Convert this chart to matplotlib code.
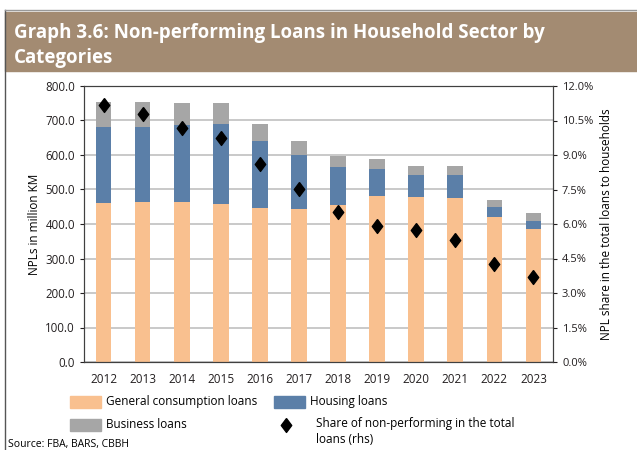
import numpy as np
import matplotlib.pyplot as plt
from matplotlib.patches import Rectangle
from matplotlib.lines import Line2D

plt.rcParams['font.family'] = ['Open Sans', 'DejaVu Sans']

years = ['2012', '2013', '2014', '2015', '2016', '2017',
         '2018', '2019', '2020', '2021', '2022', '2023']
consumption = [460, 463, 465, 459, 446, 444, 454, 481, 477, 476, 419, 386]
housing = [221, 218, 221, 230, 195, 157, 112, 77, 65, 66, 30, 24]
business = [72, 72, 64, 61, 48, 41, 31, 29, 25, 25, 20, 21]
share = [11.17, 10.77, 10.18, 9.72, 8.60, 7.53, 6.53, 5.92, 5.76, 5.29, 4.28, 3.69]

c_cons = '#f9c08f'
c_hous = '#5b7fa8'
c_bus = '#a6a6a6'
diamond = [(0, 1), (0.75, 0), (0, -1), (-0.75, 0), (0, 1)]

fig = plt.figure(figsize=(6.37, 4.5), dpi=100)

# title banner
fig.patches.append(Rectangle((5 / 637, 1 - 71 / 450), 1, 59 / 450,
                             transform=fig.transFigure, color='#a38b72', zorder=0))
fig.text(14 / 637, 1 - 33 / 450, 'Graph 3.6: Non-performing Loans in Household Sector by',
         color='white', fontsize=13.5, fontweight='bold', va='center')
fig.text(14 / 637, 1 - 58 / 450, 'Categories',
         color='white', fontsize=13.5, fontweight='bold', va='center')
fig.lines.append(Line2D([5 / 637, 5 / 637], [0, 1 - 10 / 450], transform=fig.transFigure,
                        color='#555555', lw=1))
fig.lines.append(Line2D([5 / 637, 1], [1 - 10 / 450, 1 - 10 / 450], transform=fig.transFigure,
                        color='#999999', lw=1))

ax = fig.add_axes([84 / 637, 1 - 362 / 450, 469 / 637, 276 / 450])
x = np.arange(len(years))
w = 0.4
cons = np.array(consumption)
hous = np.array(housing)
bus = np.array(business)
ax.bar(x, cons, w, color=c_cons, zorder=2)
ax.bar(x, hous, w, bottom=cons, color=c_hous, zorder=2)
ax.bar(x, bus, w, bottom=cons + hous, color=c_bus, zorder=2)
ax.set_xlim(-0.5, len(years) - 0.5)
ax.set_ylim(0, 800)
ax.set_yticks(np.arange(0, 801, 100))
ax.set_yticklabels([f'{v:.1f}' for v in np.arange(0, 801, 100)])
ax.set_xticks(x)
ax.set_xticklabels(years)
ax.grid(axis='y', color='#c0c0c0', lw=1.2, zorder=0)
ax.set_axisbelow(True)
ax.tick_params(axis='x', length=0, labelsize=8.5, pad=8, colors='#231f20')
ax.tick_params(axis='y', length=3, labelsize=8.3, colors='#231f20')
ax.set_ylabel('NPLs in million KM', fontsize=8.5, labelpad=3)
for s in ax.spines.values():
    s.set_color('#404040')

ax2 = ax.twinx()
ax2.plot(x, share, linestyle='none', marker=diamond, markersize=10,
         color='black', zorder=3)
ax2.set_ylim(0, 12)
ax2.set_yticks(np.arange(0, 12.1, 1.5))
ax2.set_yticklabels([f'{v:.1f}%' for v in np.arange(0, 12.1, 1.5)])
ax2.tick_params(axis='y', length=3, labelsize=8, colors='#231f20')
ax2.set_ylabel('NPL share in the total loans to households', fontsize=8.5, labelpad=5)
for s in ax2.spines.values():
    s.set_color('#404040')

# legend
def leg_patch(x0, y0, color, label):
    fig.patches.append(Rectangle((x0 / 637, 1 - (y0 + 6) / 450), 31 / 637, 12 / 450,
                                 transform=fig.transFigure, color=color))
    fig.text((x0 + 36) / 637, 1 - y0 / 450, label, fontsize=8.5, va='center')

leg_patch(70, 402, c_cons, 'General consumption loans')
leg_patch(274, 402, c_hous, 'Housing loans')
leg_patch(70, 425, c_bus, 'Business loans')
fig.lines.append(Line2D([286 / 637], [1 - 425 / 450], transform=fig.transFigure,
                        marker=diamond, markersize=10, color='black', linestyle='none'))
fig.text(316 / 637, 1 - 417 / 450, 'Share of non-performing in the total\nloans (rhs)',
         fontsize=8.5, va='top', linespacing=1.3)
fig.text(8 / 637, 1 - 445 / 450, 'Source: FBA, BARS, CBBH', fontsize=7.5, va='center')

fig.savefig('out.png', dpi=100)
